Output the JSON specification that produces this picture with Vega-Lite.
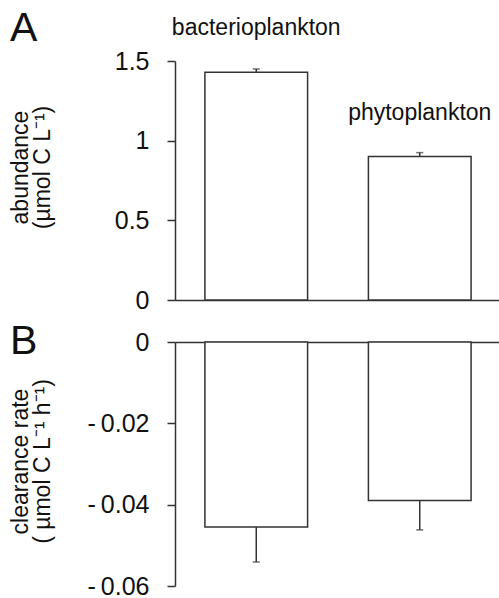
{
  "$schema": "https://vega.github.io/schema/vega-lite/v6.json",
  "padding": {"left": 9, "top": 8, "right": 0, "bottom": 0},
  "bounds": "flush",
  "spacing": 42,
  "config": {
    "font": "Liberation Sans",
    "view": {"stroke": null},
    "axis": {
      "domainColor": "#333", "tickColor": "#333", "domainWidth": 1.5, "tickWidth": 1.5,
      "labelColor": "#111", "titleColor": "#111", "labelFontSize": 25, "titleFontSize": 23,
      "titleFontWeight": "normal", "grid": false, "labelFont": "Liberation Sans", "titleFont": "Liberation Sans",
      "zindex": 1
    },
    "title": {"fontSize": 41, "fontWeight": "normal", "anchor": "start", "frame": "bounds", "color": "#111", "font": "Liberation Sans"}
  },
  "datasets": {
    "abundance": [
      {"group": "bacterioplankton", "mean": 1.43, "upper": 1.45},
      {"group": "phytoplankton", "mean": 0.90, "upper": 0.925}
    ],
    "clearance": [
      {"group": "bacterioplankton", "mean": -0.0455, "lower": -0.0541},
      {"group": "phytoplankton", "mean": -0.039, "lower": -0.0462}
    ]
  },
  "vconcat": [
    {
      "title": {"text": "A", "offset": -33, "dx": 1},
      "width": 326,
      "height": 239,
      "data": {"name": "abundance"},
      "encoding": {
        "x": {
          "field": "group", "type": "nominal", "sort": null,
          "scale": {"paddingInner": 0.372, "paddingOuter": 0.183},
          "axis": {"labels": false, "ticks": false, "title": null, "orient": "bottom"}
        }
      },
      "layer": [
        {
          "mark": {"type": "bar", "fill": "white", "stroke": "#333", "strokeWidth": 1.5},
          "encoding": {
            "y": {
              "field": "mean", "type": "quantitative",
              "scale": {"domain": [0, 1.5], "nice": false},
              "axis": {
                "values": [0, 0.5, 1, 1.5], "format": ".1~f", "tickSize": 8, "labelPadding": 18,
                "title": ["abundance", "(µmol C L⁻¹)"],
                "titleX": -166, "titleY": 106, "titleAngle": -90, "titleBaseline": "top", "titleAlign": "center", "titleLineHeight": 22
              }
            }
          }
        },
        {
          "mark": {"type": "rule", "stroke": "#333", "strokeWidth": 1.5},
          "encoding": {"y": {"field": "mean", "type": "quantitative"}, "y2": {"field": "upper"}}
        },
        {
          "mark": {"type": "tick", "size": 7, "thickness": 1.5, "color": "#333", "orient": "horizontal"},
          "encoding": {"y": {"field": "upper", "type": "quantitative"}}
        },
        {
          "mark": {"type": "text", "fontSize": 23, "dy": -37, "baseline": "alphabetic", "color": "#111"},
          "encoding": {"y": {"field": "mean", "type": "quantitative"}, "text": {"field": "group"}}
        }
      ]
    },
    {
      "title": {"text": "B", "offset": -33, "dx": 1},
      "width": 326,
      "height": 244,
      "data": {"name": "clearance"},
      "encoding": {
        "x": {
          "field": "group", "type": "nominal", "sort": null,
          "scale": {"paddingInner": 0.372, "paddingOuter": 0.183},
          "axis": {"labels": false, "ticks": false, "title": null, "orient": "top"}
        }
      },
      "layer": [
        {
          "mark": {"type": "bar", "fill": "white", "stroke": "#333", "strokeWidth": 1.5},
          "encoding": {
            "y": {
              "field": "mean", "type": "quantitative",
              "scale": {"domain": [-0.06, 0], "nice": false},
              "axis": {
                "values": [0, -0.02, -0.04, -0.06], "labelExpr": "datum.value == 0 ? '0' : '-\u2009' + format(-datum.value, '.2f')",
                "tickSize": 8, "labelPadding": 18,
                "title": ["clearance rate", "( µmol C L⁻¹ h⁻¹)"],
                "titleX": -166, "titleY": 119, "titleAngle": -90, "titleBaseline": "top", "titleAlign": "center", "titleLineHeight": 22
              }
            }
          }
        },
        {
          "mark": {"type": "rule", "stroke": "#333", "strokeWidth": 1.5},
          "encoding": {"y": {"field": "mean", "type": "quantitative"}, "y2": {"field": "lower"}}
        },
        {
          "mark": {"type": "tick", "size": 7, "thickness": 1.5, "color": "#333", "orient": "horizontal"},
          "encoding": {"y": {"field": "lower", "type": "quantitative"}}
        }
      ]
    }
  ]
}
